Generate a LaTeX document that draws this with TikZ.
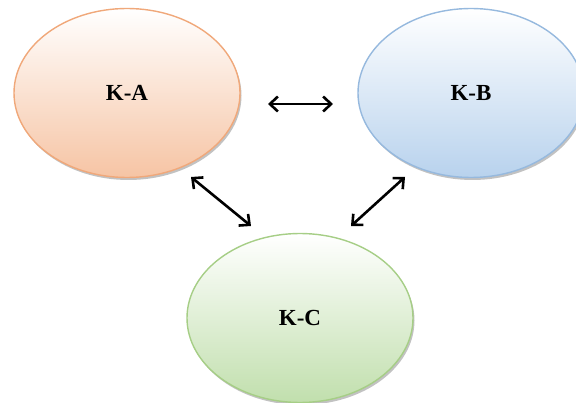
\documentclass[tikz,border=0pt]{standalone}
\usepackage{fontspec}
\setmainfont{Liberation Serif}
\usetikzlibrary{shapes.geometric, arrows.meta, shadows}

\begin{document}
\begin{tikzpicture}[x=1pt, y=-1pt,
    blob/.style={ellipse, draw, line width=1.4pt, minimum width=226pt, minimum height=169pt,
        inner sep=0pt, font=\fontsize{23}{26}\selectfont\bfseries,
        drop shadow={shadow xshift=1.5pt, shadow yshift=-2.5pt, opacity=0.4, fill=black!60}},
    link/.style={{Straight Barb[length=8pt, width=15pt, line width=2.6pt]}-{Straight Barb[length=8pt, width=15pt, line width=2.6pt]},
        line width=2.6pt, black}]
    % Define colors
    \definecolor{peachline}{RGB}{240,168,122}
    \definecolor{peachfill}{RGB}{246,196,164}
    \definecolor{blueline}{RGB}{150,185,222}
    \definecolor{bluefill}{RGB}{184,210,237}
    \definecolor{greenline}{RGB}{166,206,134}
    \definecolor{greenfill}{RGB}{193,223,173}

    % Frame of the picture
    \useasboundingbox (0,0) rectangle (576,403);
    \clip (0,0) rectangle (576,403);

    % The three ellipses
    \node[blob, draw=peachline, top color=white, bottom color=peachfill] (ka) at (127,93) {K-A};
    \node[blob, draw=blueline, top color=white, bottom color=bluefill] (kb) at (471,93) {K-B};
    \node[blob, draw=greenline, top color=white, bottom color=greenfill] (kc) at (300,318) {K-C};

    % Arrow ends
    \coordinate (ab1) at (268,104);
    \coordinate (ab2) at (333,104);
    \coordinate (ac1) at (191,177);
    \coordinate (ac2) at (251,226);
    \coordinate (bc1) at (405,177);
    \coordinate (bc2) at (351,226);

    % Two-way arrows between the ellipses
    \draw[link] (ab1) -- (ab2);
    \draw[link] (ac1) -- (ac2);
    \draw[link] (bc1) -- (bc2);
\end{tikzpicture}
\end{document}
